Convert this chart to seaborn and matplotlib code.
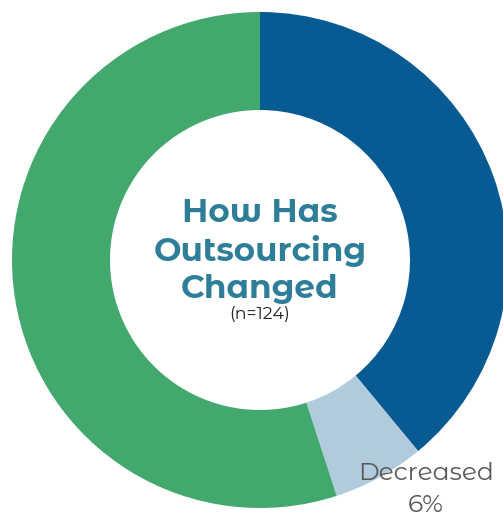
import matplotlib
matplotlib.use("Agg")
import matplotlib.pyplot as plt
import seaborn as sns

# values (clockwise from 12 o'clock)
categories = ["Increased", "Decreased", "Stayed the same"]
shares = [39, 6, 55]
colors = ["#075B92", "#AFCBDC", "#42A86E"]
center_title = ["How Has", "Outsourcing", "Changed"]
n_text = "(n=124)"

sns.set_style("white")
plt.rcParams["font.family"] = ["Montserrat Alternates", "Inter", "DejaVu Sans"]

fig = plt.figure(figsize=(5.03, 5.17), dpi=100)
ax = fig.add_axes([0, 0, 1, 1])

wedges, _ = ax.pie(shares, colors=colors, startangle=90, counterclock=False,
                   radius=248, center=(260, 257),
                   wedgeprops=dict(width=98, linewidth=0))
ax.set_xlim(0, 503)
ax.set_ylim(0, 517)
ax.set_aspect("equal")
ax.axis("off")

teal = "#2E7E99"
for k, line in enumerate(center_title):
    ax.text(260, 517 - (213 + k * 38), line, ha="center", va="center",
            fontsize=23.5, fontweight="bold", color=teal)
ax.text(260, 517 - 314, n_text, ha="center", va="center", fontsize=12.5, color="#222222")

# only the small slice carries an outside label
ax.text(426, 517 - 474, categories[1], ha="center", va="center", fontsize=18, color="#595959")
ax.text(426, 517 - 506, f"{shares[1]}%", ha="center", va="center", fontsize=18, color="#595959")

fig.savefig("out.png", dpi=100)
